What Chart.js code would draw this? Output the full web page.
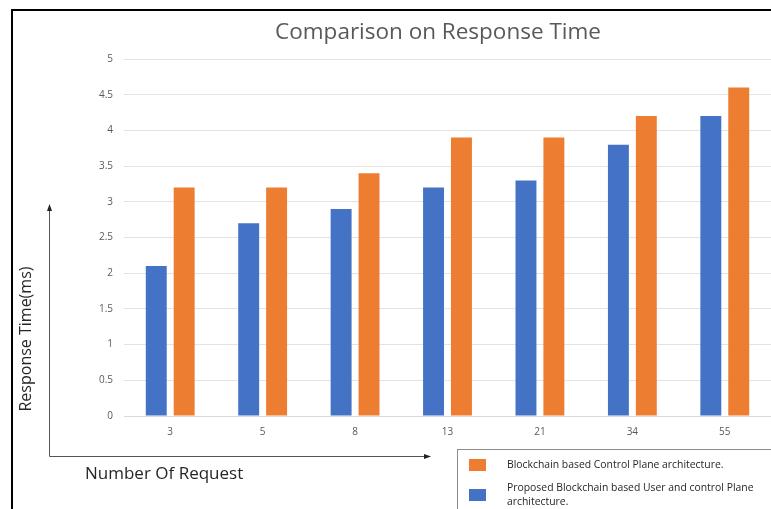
<!DOCTYPE html>
<html lang="en">
  <head>
    <meta charset="UTF-8" />
    <title>Comparison on Response Time</title>
    <script src="https://cdn.jsdelivr.net/npm/chart.js@4.4.0/dist/chart.umd.min.js"></script>
    <style>
      html, body { margin: 0; padding: 0; background: #fff; }
      .chart-view { width: 771px; height: 509px; position: relative; }
    </style>
  </head>
  <body>
    <div class="chart-view">
      <canvas id="chart"></canvas>
    </div>

    <script>
      //data
      const REQUESTS = ['3', '5', '8', '13', '21', '34', '55'];
      const PROPOSED = [2.1, 2.7, 2.9, 3.2, 3.3, 3.8, 4.2];
      const CONTROL_PLANE = [3.2, 3.2, 3.4, 3.9, 3.9, 4.2, 4.6];
      const Y_TICKS = [0, 0.5, 1, 1.5, 2, 2.5, 3, 3.5, 4, 4.5, 5];

      const TITLE = 'Comparison on Response Time';
      const BLUE = '#4472c4';
      const ORANGE = '#ed7d31';
      const TEXT = '#595959';

      // title, frame, hand drawn axes, axis titles and the boxed legend
      const decorations = {
        id: 'decorations',
        afterDraw(chart) {
          const c = chart.ctx;
          c.save();

          // title
          c.fillStyle = TEXT;
          c.font = '22.5px "Open Sans"';
          c.textAlign = 'center';
          c.textBaseline = 'middle';
          c.fillText(TITLE, 438, 33);

          // outer frame
          c.strokeStyle = '#000';
          c.lineWidth = 2;
          c.beginPath();
          c.moveTo(12, 509);
          c.lineTo(12, 10);
          c.lineTo(771, 10);
          c.stroke();

          // arrows
          c.strokeStyle = '#555';
          c.lineWidth = 1;
          c.beginPath();
          c.moveTo(49.5, 209);
          c.lineTo(49.5, 456.5);
          c.lineTo(426, 456.5);
          c.stroke();
          c.fillStyle = '#222';
          c.beginPath();
          c.moveTo(49.5, 204);
          c.lineTo(47, 211);
          c.lineTo(52, 211);
          c.closePath();
          c.fill();
          c.beginPath();
          c.moveTo(431, 456.5);
          c.lineTo(424, 454);
          c.lineTo(424, 459);
          c.closePath();
          c.fill();

          // axis titles
          c.fillStyle = '#262626';
          c.font = '17px "Open Sans"';
          c.textAlign = 'left';
          c.fillText('Number Of Request', 85, 474);
          c.save();
          c.translate(26, 339);
          c.rotate(-Math.PI / 2);
          c.textAlign = 'center';
          c.font = '16px "Open Sans"';
          c.fillText('Response Time(ms)', 0, 0);
          c.restore();

          // legend box
          c.strokeStyle = '#8c8c8c';
          c.lineWidth = 1;
          c.strokeRect(457.5, 449.5, 330, 80);
          const ds = chart.data.datasets;
          c.fillStyle = ds[1].backgroundColor;
          c.fillRect(469, 459, 17, 12);
          c.fillStyle = ds[0].backgroundColor;
          c.fillRect(469, 489, 17, 12);
          c.fillStyle = '#262626';
          c.font = '10.4px "Open Sans"';
          c.fillText(ds[1].label, 507, 465);
          c.fillText('Proposed Blockchain based User and control Plane', 507, 488);
          c.fillText('architecture.', 507, 502);

          c.restore();
        }
      };

      //config
      const config = {
        type: 'bar',
        data: {
          labels: REQUESTS,
          datasets: [
            {
              label: 'Proposed Blockchain based User and control Plane architecture.',
              data: PROPOSED,
              backgroundColor: BLUE,
              categoryPercentage: 0.604,
              barPercentage: 0.75
            },
            {
              label: 'Blockchain based Control Plane architecture.',
              data: CONTROL_PLANE,
              backgroundColor: ORANGE,
              categoryPercentage: 0.604,
              barPercentage: 0.75
            }
          ]
        },
        options: {
          responsive: true,
          maintainAspectRatio: false,
          animation: false,
          layout: {
            padding: { left: 84, right: 0, top: 59, bottom: 63 }
          },
          plugins: {
            legend: { display: false },
            tooltip: { enabled: false },
            title: { display: false }
          },
          scales: {
            x: {
              grid: { display: false, drawTicks: false },
              border: { display: true, color: '#d9d9d9' },
              ticks: {
                color: TEXT,
                padding: 10,
                font: { family: 'Open Sans', size: 10 }
              },
              afterFit(scale) { scale.height = 30; }
            },
            y: {
              min: 0,
              max: 5,
              afterBuildTicks(scale) {
                scale.ticks = Y_TICKS.map(v => ({ value: v }));
              },
              grid: { color: '#e3e3e3', drawTicks: false },
              border: { display: false },
              ticks: {
                color: TEXT,
                padding: 11,
                font: { family: 'Open Sans', size: 10 },
                callback: v => String(v)
              },
              afterFit(scale) { scale.width = 40; }
            }
          }
        },
        plugins: [decorations]
      };

      //init
      const ctx = document.getElementById('chart');
      const chart = new Chart(ctx, config);
    </script>
  </body>
</html>
